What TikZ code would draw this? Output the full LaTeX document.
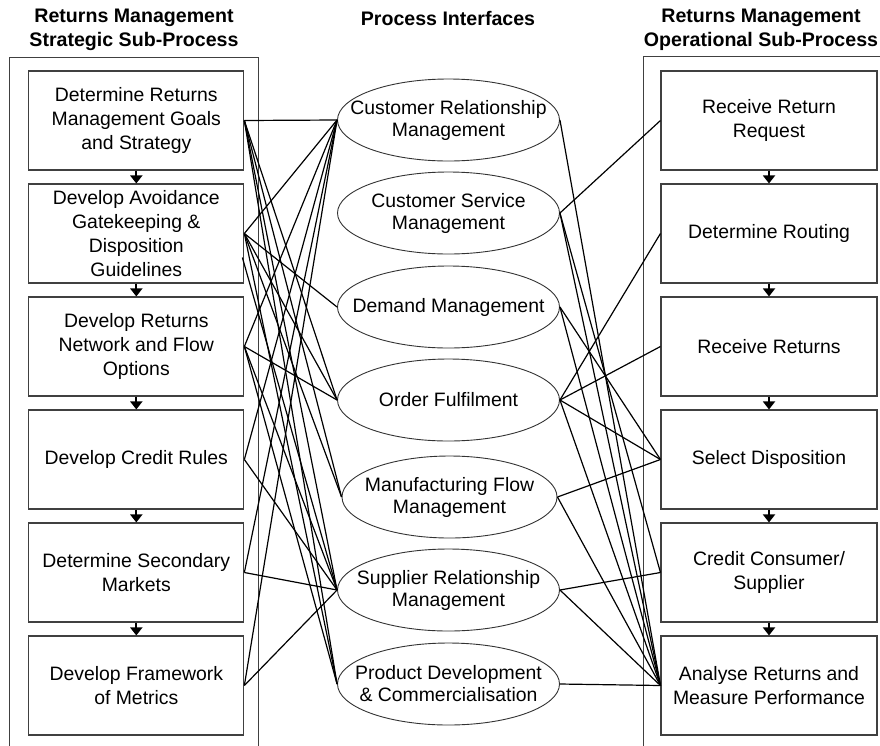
\documentclass[tikz,border=0pt]{standalone}
\usepackage{fontspec}
\setmainfont{Liberation Sans}
\usetikzlibrary{arrows.meta,shapes.geometric}

\begin{document}
\begin{tikzpicture}[x=1pt,y=-1pt,
	box/.style={draw=black!75,line width=1.1pt,minimum width=215pt,minimum height=99pt,
		inner sep=0pt,align=center,font=\fontsize{19.4}{24}\selectfont},
	iface/.style={draw=black!80,ellipse,line width=0.9pt,minimum width=222pt,minimum height=82pt,
		inner xsep=-40pt,inner ysep=0pt,align=center,font=\fontsize{19.4}{22}\selectfont},
	titel/.style={align=center,font=\fontsize{19.6}{24}\selectfont\bfseries},
	link/.style={line width=1.2pt},
	flow/.style={line width=1.8pt,-{Triangle[width=12pt,length=8pt]}}]
		\useasboundingbox (0,0) rectangle (880,745);
		\clip (0,0) rectangle (880,745);
		% Titel
		\node[titel] (tl) at (134,30) {Returns Management\\Strategic Sub-Process};
		\node[titel] (tm) at (448,18) {Process Interfaces};
		\node[titel] (tr) at (761,30) {Returns Management\\Operational Sub-Process};
		% Rahmen
		\draw[black!75,line width=1pt] (9,57) rectangle (258,760);
		\draw[black!75,line width=1pt] (643,56) rectangle (900,760);
		% Strategisch
		\node[box] (s1) at (136.3,120.5) {Determine Returns\\Management Goals\\and Strategy};
		\node[box] (s2) at (136.3,233.5) {Develop Avoidance\\Gatekeeping \&\\Disposition\\Guidelines};
		\node[box] (s3) at (136.3,346.5) {Develop Returns\\Network and Flow\\Options};
		\node[box] (s4) at (136.3,459.5) {Develop Credit Rules};
		\node[box] (s5) at (136.3,572.5) {Determine Secondary\\Markets};
		\node[box] (s6) at (136.3,685.5) {Develop Framework\\of Metrics};
		% Schnittstellen
		\node[iface] (crm) at (448.5,120) {Customer Relationship\\Management};
		\node[iface] (csm) at (448.5,213) {Customer Service\\Management};
		\node[iface] (dm) at (448.5,307) {Demand Management};
		\node[iface] (of) at (448.5,400) {Order Fulfilment};
		\node[iface,minimum width=215pt] (mfm) at (449.5,497) {Manufacturing Flow\\Management};
		\node[iface] (srm) at (448.5,590) {Supplier Relationship\\Management};
		\node[iface] (pdc) at (448.5,684) {Product Development\\\& Commercialisation};
		% Operativ
		\node[box,minimum width=216pt] (o1) at (769,120.5) {Receive Return\\Request};
		\node[box,minimum width=216pt] (o2) at (769,233.5) {Determine Routing};
		\node[box,minimum width=216pt] (o3) at (769,346.5) {Receive Returns};
		\node[box,minimum width=216pt] (o4) at (769,459.5) {Select Disposition};
		\node[box,minimum width=216pt] (o5) at (769,572.5) {Credit Consumer/\\Supplier};
		\node[box,minimum width=216pt] (o6) at (769,685.5) {Analyse Returns and\\Measure Performance};
		% Ablauf
		\foreach \a/\b in {s1/s2,s2/s3,s3/s4,s4/s5,s5/s6,o1/o2,o2/o3,o3/o4,o4/o5,o5/o6}
			\draw[flow] (\a) -- (\b);
		% Verbindungen links
		\coordinate (s2x) at ([shift={(-2,24)}]s2.east);
		\foreach \a/\b in {s1/crm,s1/of,s1/mfm,s1/srm,s1/pdc,
				s2/crm,s2/dm,s2/of,s2/mfm,s2/pdc,
				s3/crm,s3/of,s3/srm,s3/pdc,
				s4/crm,s4/srm,s5/crm,s5/srm,s6/crm,s6/srm}
			\draw[link] (\a.east) -- (\b.west);
		\draw[link] (s2x) -- (srm.west);
		% Verbindungen rechts
		\foreach \a/\b in {crm/o6,csm/o1,csm/o5,csm/o6,dm/o4,dm/o6,
				of/o2,of/o3,of/o4,of/o6,mfm/o4,mfm/o6,srm/o5,srm/o6,pdc/o6}
			\draw[link] (\a.east) -- (\b.west);
	\end{tikzpicture}
\end{document}
